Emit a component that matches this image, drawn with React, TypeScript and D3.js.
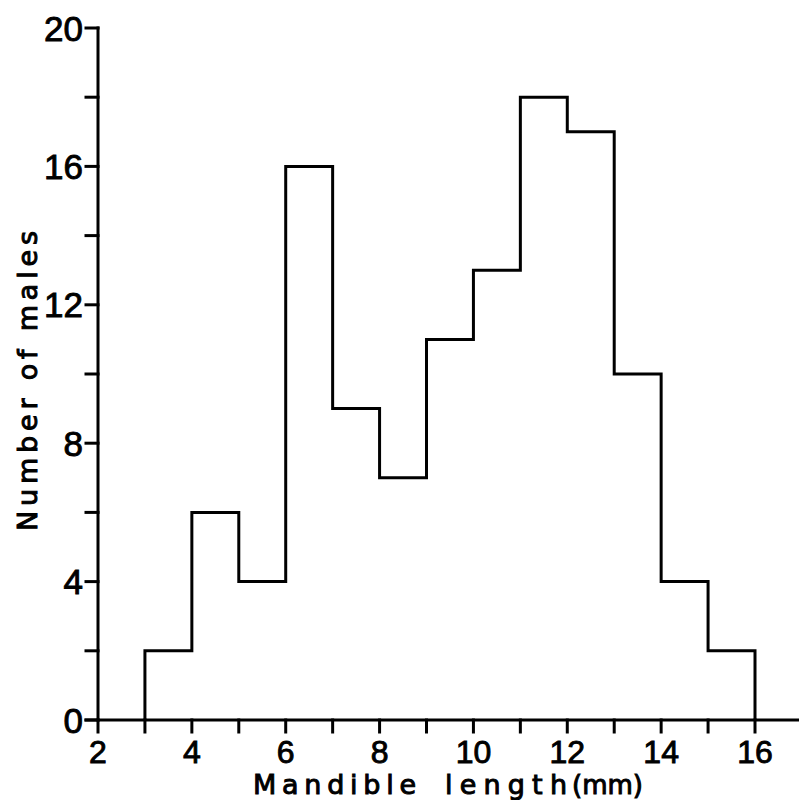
import React from "react";
import * as d3 from "d3";

const binStarts = [3, 4, 5, 6, 7, 8, 9, 10, 11, 12, 13, 14, 15];
const counts = [2, 6, 4, 16, 9, 7, 11, 13, 18, 17, 10, 4, 2];
const xTickValues = [2, 3, 4, 5, 6, 7, 8, 9, 10, 11, 12, 13, 14, 15, 16];
const xTickLabels = [2, 4, 6, 8, 10, 12, 14, 16];
const yTickValues = [0, 2, 4, 6, 8, 10, 12, 14, 16, 18, 20];
const yTickLabels = [0, 4, 8, 12, 16, 20];
const xTitleWords = ["Mandible", "length", "(mm)"];
const yTitle = "Number of males";

export default function App() {
  const W = 799, H = 800;
  const x = d3.scaleLinear().domain([2, 16]).range([98, 755]);
  const y = d3.scaleLinear().domain([0, 20]).range([720, 28]);

  const pts: [number, number][] = [];
  binStarts.forEach((s, i) => {
    const c = counts[i];
    if (i === 0) pts.push([s, 0]);
    pts.push([s, c]);
    pts.push([s + 1, c]);
  });
  pts.push([binStarts[binStarts.length - 1] + 1, 0]);
  const line = d3.line<[number, number]>().x(d => x(d[0])).y(d => y(d[1]));

  const font = "'Liberation Sans', Arial, Helvetica, sans-serif";
  const titleFont = "'DejaVu Sans', Verdana, sans-serif";
  const tickLen = 12;
  // word layout for x title: [start x, length]
  const wordBoxes: [number, number][] = [[253, 163], [445, 122], [572, 71]];
  return (
    <svg width={W} height={H} style={{ position: "absolute", left: 0, top: 0, background: "#fff" }}>
      <g stroke="#000" strokeWidth={3} fill="none" strokeLinecap="square">
        <line x1={x(2)} x2={x(2)} y1={y(20)} y2={y(0)} />
        <line x1={x(2) - tickLen} x2={W} y1={y(0)} y2={y(0)} />
        {yTickValues.map(v => (
          <line key={"y" + v} x1={x(2) - tickLen} x2={x(2)} y1={y(v)} y2={y(v)} />
        ))}
        {xTickValues.map(v => (
          <line key={"x" + v} x1={x(v)} x2={x(v)} y1={y(0)} y2={y(0) + tickLen} />
        ))}
        <path d={line(pts) || ""} strokeLinejoin="miter" strokeLinecap="butt" />
      </g>
      <g fontFamily={font} fill="#000" stroke="#000" strokeWidth={0.9}>
        {yTickLabels.map(v => (
          <text key={"yl" + v} x={x(2) - tickLen - 3} y={y(v)} dy="0.36em" textAnchor="end" fontSize={35}>{v}</text>
        ))}
        {xTickLabels.map(v => (
          <text key={"xl" + v} x={x(v)} y={763} textAnchor="middle" fontSize={32}>{v}</text>
        ))}
      </g>
      <g fontFamily={titleFont} fontSize={27} fill="#000" stroke="#000" strokeWidth={1}>
        {xTitleWords.map((w, i) => (
          <text key={w} x={wordBoxes[i][0]} y={794} textLength={wordBoxes[i][1]}
            lengthAdjust={i === 2 ? "spacingAndGlyphs" : "spacing"}>{w}</text>
        ))}
        <text transform={`translate(37,${381}) rotate(-90)`} textAnchor="middle" textLength={300} lengthAdjust="spacing">{yTitle}</text>
      </g>
    </svg>
  );
}
